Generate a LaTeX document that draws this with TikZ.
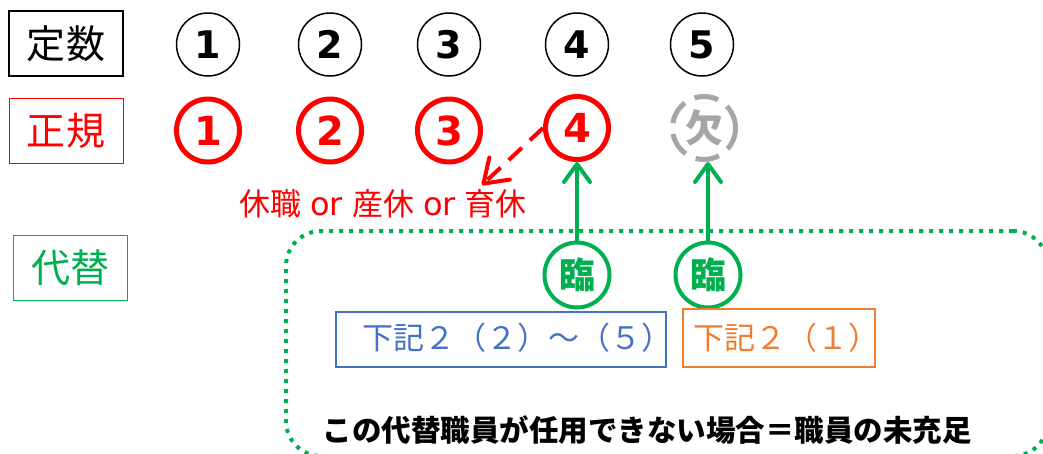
\documentclass[tikz,border=0pt]{standalone}
\usepackage{fontspec}
\setmainfont{Noto Sans CJK JP}
\newfontfamily\dvs{DejaVu Sans}
\usetikzlibrary{arrows.meta}
\definecolor{cred}{HTML}{FF0000}
\definecolor{cgreen}{HTML}{00B050}
\definecolor{cblue}{HTML}{4472C4}
\definecolor{corange}{HTML}{ED7D31}
\definecolor{cgray}{HTML}{A6A6A6}
\newcommand{\myfs}[1]{\fontsize{#1}{#1}\selectfont}
\begin{document}
\begin{tikzpicture}[x=1pt,y=-1pt,
  lbox/.style={draw, line width=1.2pt, minimum width=114pt, minimum height=65pt, inner sep=0pt, font=\myfs{39}},
  bcirc/.style={circle, draw, line width=1.5pt, minimum size=63pt, inner sep=0pt, font=\dvs\bfseries\myfs{38}},
  rcirc/.style={circle, draw=cred, text=cred, line width=5pt, minimum size=63pt, inner sep=0pt, font=\dvs\bfseries\myfs{40}},
  kcirc/.style={circle, draw=cgray, text=cgray, line width=5pt, dash pattern=on 24pt off 11pt, minimum size=63pt, inner sep=0pt, font=\bfseries\myfs{38}},
  rincirc/.style={circle, draw=cgreen, text=cgreen, line width=4pt, minimum size=65pt, inner sep=0pt, font=\bfseries\myfs{36}},
  garrow/.style={draw=cgreen, line width=4pt, -{Straight Barb[length=18pt, width=26pt, round]}},
  rarrow/.style={draw=cred, line width=4pt, dash pattern=on 18pt off 11pt, -{Straight Barb[length=22pt, width=30pt, round]}},
  boxA/.style={draw=cblue, line width=2pt, minimum width=330pt, minimum height=55pt, inner sep=0pt},
  boxB/.style={draw=corange, line width=2pt, minimum width=192pt, minimum height=58pt, inner sep=0pt},
  frame/.style={draw=cgreen, line width=4pt, dash pattern=on 4pt off 6pt, rounded corners=35pt, minimum width=762pt, minimum height=225pt, inner sep=0pt}
]
\useasboundingbox[fill=white] (0,0) rectangle (1043,453);

% row labels
\node[lbox] (teisu) at (66,43.5) {定数};
\node[lbox, draw=cred, line width=1pt, text=cred] (seiki) at (66,130.5) {正規};
\node[lbox, draw=cgreen, line width=1pt, text=cgreen] (daitai) at (70.5,268) {代替};

% quota circles
\node[bcirc] (q1) at (208,44.5) {1};
\node[bcirc] (q2) at (330,44.5) {2};
\node[bcirc] (q3) at (449,44.5) {3};
\node[bcirc] (q4) at (577,44.5) {4};
\node[bcirc] (q5) at (702,44.5) {5};

% regular staff circles
\node[rcirc] (r1) at (208,130.5) {1};
\node[rcirc] (r2) at (330,130.5) {2};
\node[rcirc] (r3) at (449,130.5) {3};
\node[rcirc] (r4) at (577,128) {4};
\node[kcirc] (ket) at (704,128) {欠};

% leave note
\node[text=cred, font=\myfs{31}, inner sep=0pt] (note) at (383,204)
  {休職\hspace{9pt}{\dvs\myfs{32}or}\hspace{9pt}産休\hspace{9pt}{\dvs\myfs{32}or}\hspace{9pt}育休};
\coordinate (tip) at (482,185);
\draw[rarrow] (r4.west) -- (tip);

% dotted frame
\node[frame] (fr) at (667,343.5) {};

% temporary staff
\node[rincirc] (rin1) at (577,275) {臨};
\node[rincirc] (rin2) at (708,275) {臨};
\draw[garrow] (rin1.north) -- (r4.south);
\draw[garrow] (rin2.north) -- (rin2.north |- ket.south);

% reference boxes
\node[boxA] (bA) at (501,339.5) {};
\node[text=cblue, font=\myfs{31}, inner sep=0pt] (bAt) at (517.5,338) {下記２（２）～（５）};
\node[boxB] (bB) at (779,338) {};
\node[text=corange, font=\myfs{31}, inner sep=0pt] (bBt) at (786.5,338) {下記２（１）};

% conclusion
\node[font=\bfseries\myfs{29.5}, inner sep=0pt] (concl) at (647,430) {この代替職員が任用できない場合＝職員の未充足};
\end{tikzpicture}
\end{document}
